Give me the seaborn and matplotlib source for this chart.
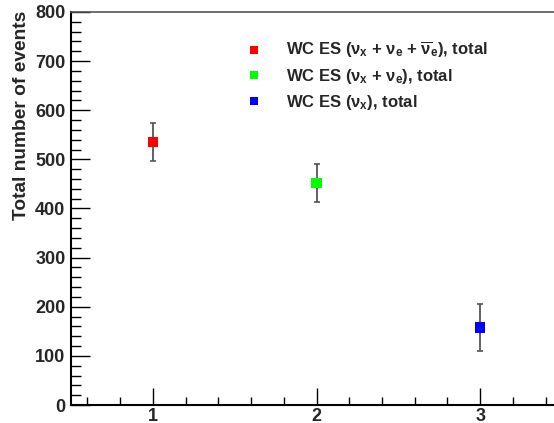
import matplotlib
matplotlib.use("Agg")
import matplotlib.pyplot as plt
import seaborn as sns
import pandas as pd
from matplotlib.ticker import MultipleLocator

categories = [1, 2, 3]
values = [535, 452, 158]
errors = [39, 38, 48]
labels = [r"WC ES ($\nu_x$ + $\nu_e$ + $\overline{\nu}_e$), total",
          r"WC ES ($\nu_x$ + $\nu_e$), total",
          r"WC ES ($\nu_x$), total"]
colors = ["#ff0000", "#00ff00", "#0000ff"]

sns.set_style("white")
plt.rcParams["font.family"] = ["Liberation Sans", "DejaVu Sans"]
plt.rcParams["font.weight"] = "bold"
plt.rcParams["mathtext.fontset"] = "custom"
plt.rcParams["mathtext.rm"] = "Liberation Sans:bold"
plt.rcParams["mathtext.it"] = "Liberation Sans:bold"
plt.rcParams["mathtext.bf"] = "Liberation Sans:bold"
plt.rcParams["mathtext.sf"] = "Liberation Sans:bold"

df = pd.DataFrame({"x": categories, "y": values, "err": errors, "label": labels})

fig = plt.figure(figsize=(5.54, 4.23), dpi=100)
ax = fig.add_axes([71/554, 18/423, (562-71)/554, 393/423])

for xi, yi, ei in zip(df["x"], df["y"], df["err"]):
    ax.errorbar(xi, yi, yerr=ei, fmt="none", ecolor="#555555", elinewidth=1.3,
                capsize=2.5, capthick=1.2, zorder=2)

sns.scatterplot(data=df, x="x", y="y", hue="label", palette=colors, marker="s",
                s=55, linewidth=0, ax=ax, zorder=3)

ax.set_xlim(0.5, 3.5)
ax.set_ylim(0, 800)
ax.xaxis.set_major_locator(MultipleLocator(1))
ax.xaxis.set_minor_locator(MultipleLocator(0.2))
ax.yaxis.set_major_locator(MultipleLocator(100))
ax.yaxis.set_minor_locator(MultipleLocator(20))
ax.tick_params(axis="both", which="both", direction="in", color="black",
               bottom=True, left=True, top=False, right=False)
ax.tick_params(axis="y", which="major", length=14, width=1, pad=4, labelsize=13)
ax.tick_params(axis="y", which="minor", length=7, width=1)
ax.tick_params(axis="x", which="major", length=12, width=1, pad=2.5, labelsize=13)
ax.tick_params(axis="x", which="minor", length=6, width=1)
for lab in ax.get_xticklabels() + ax.get_yticklabels():
    lab.set_fontweight("bold")

ax.set_xlabel("")
ax.set_ylabel("Total number of events", fontsize=13.8, fontweight="bold")
ax.yaxis.set_label_coords((30 - 71) / 491, 1.0 + 1/393)
ax.yaxis.label.set_horizontalalignment("right")

for s in ["left", "bottom"]:
    ax.spines[s].set_color("black")
    ax.spines[s].set_linewidth(1.5)
ax.spines["top"].set_color("#555555")
ax.spines["top"].set_linewidth(1.2)
ax.spines["right"].set_visible(False)

leg = ax.legend(loc="upper left", bbox_to_anchor=(0.3245, 0.945), frameon=False,
                fontsize=12, markerscale=0.7, handletextpad=0.95, labelspacing=0.4,
                borderaxespad=0)
for t in leg.get_texts():
    t.set_fontweight("bold")

fig.savefig("out.png", dpi=100)
